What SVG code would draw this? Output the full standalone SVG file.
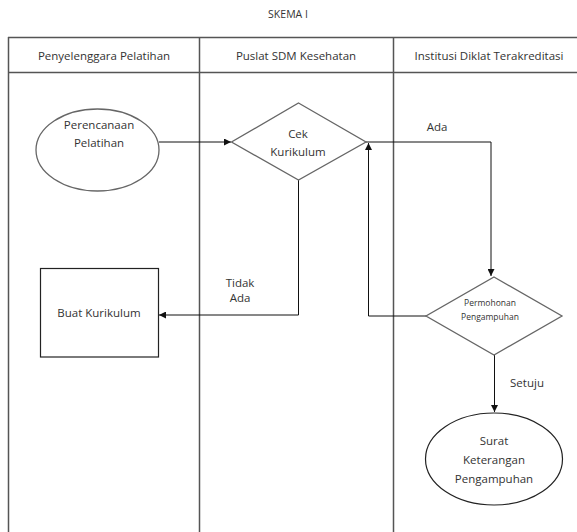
<svg xmlns="http://www.w3.org/2000/svg" width="577" height="532" viewBox="0 0 577 532">
<style>
text{font-family:"Open Sans","Liberation Sans",sans-serif;fill:#333;text-anchor:middle}
.t{font-size:11.5px}
.s{font-size:8.5px}
.grid{stroke:#555;stroke-width:1.5;fill:none}
.shape{fill:#fff;stroke:#666;stroke-width:1.3}
.box{fill:#fff;stroke:#222;stroke-width:1.2}
.conn{fill:none;stroke:#111;stroke-width:1}
</style>
<defs>
<marker id="ah" viewBox="0 0 10 10" refX="10" refY="5" markerWidth="7" markerHeight="7" orient="auto" markerUnits="userSpaceOnUse">
<path d="M0,0 L10,5 L0,10 z" fill="#111"/>
</marker>
</defs>
<rect width="577" height="532" fill="#fff"/>
<text x="288" y="18" class="t" style="font-size:10.5px">SKEMA I</text>
<g id="table">
<line class="grid" x1="8" y1="37.5" x2="577" y2="37.5"/>
<line class="grid" x1="8" y1="72.5" x2="577" y2="72.5"/>
<line class="grid" x1="8.5" y1="37" x2="8.5" y2="532"/>
<line class="grid" x1="199.5" y1="37" x2="199.5" y2="532"/>
<line class="grid" x1="393.5" y1="37" x2="393.5" y2="532"/>
<text x="104" y="60" class="t">Penyelenggara Pelatihan</text>
<text x="296" y="60" class="t">Puslat SDM Kesehatan</text>
<text x="489" y="60" class="t">Institusi Diklat Terakreditasi</text>
</g>
<g id="connectors">
<line class="conn" x1="159" y1="142" x2="231" y2="142" marker-end="url(#ah)"/>
<polyline class="conn" points="366,142 491,142 491,276" marker-end="url(#ah)"/>
<polyline class="conn" points="298.5,180 298.5,315 159,315" marker-end="url(#ah)"/>
<polyline class="conn" points="426,316 368.5,316 368.5,143" marker-end="url(#ah)"/>
<line class="conn" x1="494.5" y1="355" x2="494.5" y2="412" marker-end="url(#ah)"/>
<text x="437" y="131" class="t">Ada</text>
<text x="240" y="287" class="t">Tidak</text>
<text x="240" y="302" class="t">Ada</text>
<text x="527" y="387" class="t">Setuju</text>
</g>
<g id="perencanaan">
<ellipse class="shape" cx="97.5" cy="150" rx="61.5" ry="41"/>
<text x="99" y="129" class="t">Perencanaan</text>
<text x="99" y="147" class="t">Pelatihan</text>
</g>
<g id="cek">
<polygon class="shape" points="298.5,103 366,142 298.5,180 231.5,142"/>
<text x="298" y="138" class="t">Cek</text>
<text x="298" y="156" class="t">Kurikulum</text>
</g>
<g id="buat">
<rect class="box" x="40.5" y="268.5" width="118" height="88.5"/>
<text x="99" y="317" class="t">Buat Kurikulum</text>
</g>
<g id="permohonan">
<polygon class="shape" points="494,277 562,316 494,355 426,316"/>
<text x="490" y="306" class="s">Permohonan</text>
<text x="490" y="320" class="s">Pengampuhan</text>
</g>
<g id="surat">
<ellipse class="box" cx="494" cy="459" rx="68.5" ry="46"/>
<text x="494" y="445" class="t">Surat</text>
<text x="494" y="464" class="t">Keterangan</text>
<text x="494" y="483" class="t">Pengampuhan</text>
</g>
</svg>
